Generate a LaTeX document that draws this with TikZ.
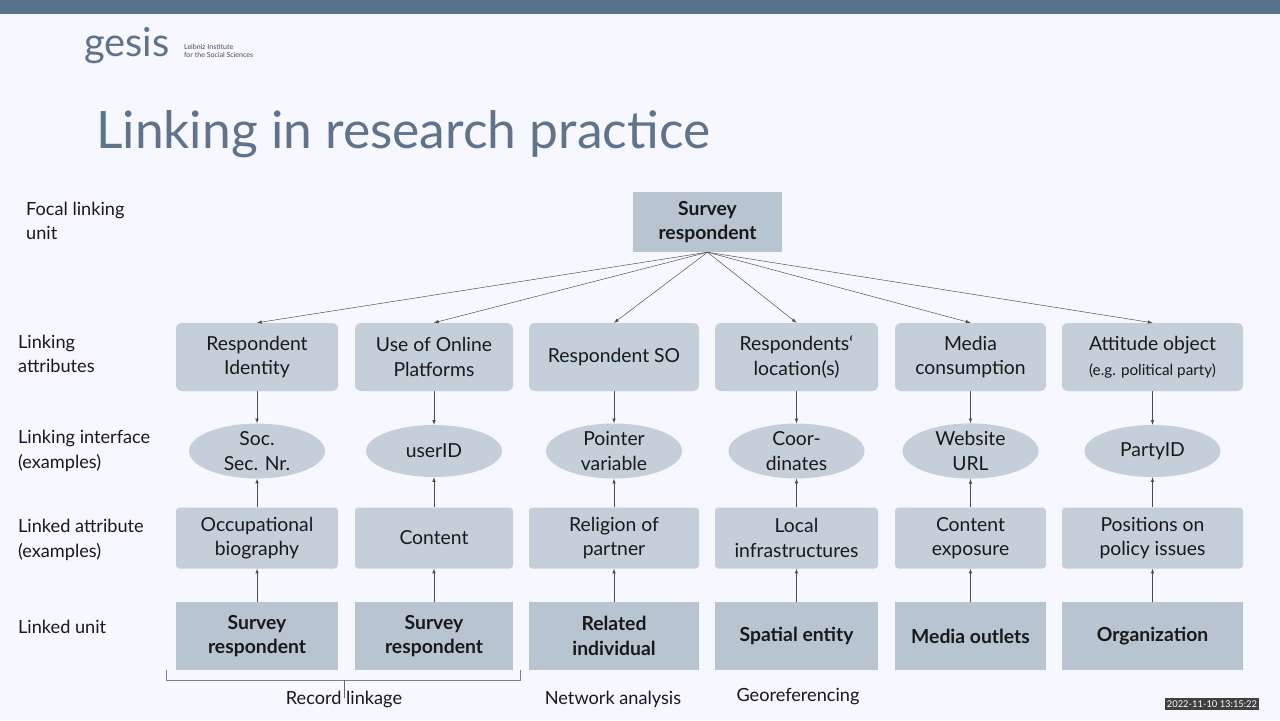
\documentclass[tikz,border=0pt]{standalone}
\usepackage{fontspec}
\setmainfont{Lato}
\usetikzlibrary{shapes.geometric}
\definecolor{band}{RGB}{88,114,140}
\definecolor{boxfill}{RGB}{196,207,218}
\definecolor{unitfill}{RGB}{184,196,208}
\definecolor{titlecol}{RGB}{95,115,138}
\definecolor{txt}{RGB}{25,25,25}
\tikzset{
  lbl/.style={font=\fontsize{15.5}{21}\selectfont, text=txt, align=left, anchor=west},
  attr/.style={rounded corners=5pt, fill=boxfill, minimum height=68*0.03cm, align=center, font=\fontsize{16.5}{21}\selectfont, text=txt, inner sep=1pt},
  iface/.style={ellipse, fill=boxfill, minimum width=136*0.03cm, minimum height=52*0.03cm, align=center, font=\fontsize{16.5}{21}\selectfont, text=txt, inner sep=0pt},
  linked/.style={rounded corners=3pt, fill=boxfill, minimum height=61*0.03cm, align=center, font=\fontsize{16.5}{21}\selectfont, text=txt, inner sep=1pt},
  unit/.style={fill=unitfill, minimum height=68*0.03cm, align=center, font=\fontsize{16.5}{21}\selectfont\bfseries, text=txt, inner sep=1pt},
  link/.style={-latex, draw=black!70, thin},
}
\begin{document}
\begin{tikzpicture}[x=0.03cm, y=-0.03cm]
\useasboundingbox (0,0) rectangle (1280,720);
\fill[white!97!blue] (0,0) rectangle (1280,720);
\fill[band] (0,0) rectangle (1280,14);
% logo and title
\node[anchor=west, text=titlecol, font=\fontsize{34}{34}\selectfont] (logo) at (80,46) {gesis};
\node[anchor=west, text=black!70, font=\fontsize{6}{7}\selectfont, align=left] (inst) at (180,51) {Leibniz Institute\\for the Social Sciences};
\node[anchor=west, text=titlecol, font=\fontsize{44}{46}\selectfont] (title) at (92,134) {Linking in research practice};
% row labels
\node[lbl] (l1) at (22,221) {Focal linking\\unit};
\node[lbl] (l2) at (14,354) {Linking\\attributes};
\node[lbl] (l3) at (14,451) {Linking interface\\(examples)};
\node[lbl] (l4) at (14,540) {Linked attribute\\(examples)};
\node[lbl] (l5) at (14,627) {Linked unit};
% focal unit
\node[unit, minimum width=149*0.03cm, minimum height=60*0.03cm] (top) at (707.5,222) {Survey\\respondent};
% columns
\foreach \n/\x/\w/\a/\i/\l/\u in {
  1/257/162/{Respondent\\Identity}/{Soc.\\Sec. Nr.}/{Occupational\\biography}/{Survey\\respondent},
  2/434/158/{Use of Online\\Platforms}/{userID}/{Content}/{Survey\\respondent},
  3/614/170/{Respondent SO}/{Pointer\\variable}/{Religion of\\partner}/{Related\\individual},
  4/796.5/163/{Respondents‘\\location(s)}/{Coor-\\dinates}/{Local\\infrastructures}/{Spatial entity},
  5/970.5/151/{Media\\consumption}/{Website\\URL}/{Content\\exposure}/{Media outlets},
  6/1152.5/181/{Attitude object\\{\fontsize{13}{15}\selectfont(e.g. political party)}}/{PartyID}/{Positions on\\policy issues}/{Organization}}{
  \node[attr, minimum width=\w*0.03cm] (a\n) at (\x,357) {\a};
  \node[iface] (i\n) at (\x,451) {\i};
  \node[linked, minimum width=\w*0.03cm] (k\n) at (\x,538) {\l};
  \node[unit, minimum width=\w*0.03cm] (u\n) at (\x,636) {\u};
  \draw[link] (top.south) -- (a\n.north);
  \draw[link] (a\n) -- (i\n);
  \draw[link] (k\n) -- (i\n);
  \draw[link] (u\n) -- (k\n);
}
% methods
\draw[black!50] (166,670) -- (166,680) -- (520,680) -- (520,670);
\draw[black!60] (344,680) -- (344,698);
\node[font=\fontsize{15.5}{18}\selectfont, text=txt] (m1) at (344,699) {Record linkage};
\node[font=\fontsize{15.5}{18}\selectfont, text=txt] (m2) at (613,699) {Network analysis};
\node[font=\fontsize{15.5}{18}\selectfont, text=txt] (m3) at (798,697) {Georeferencing};
\node[fill=black!75, text=white, font=\fontsize{8}{9}\selectfont, inner sep=2pt] (stamp) at (1212,704) {2022-11-10 13:15:22};
\end{tikzpicture}
\end{document}
